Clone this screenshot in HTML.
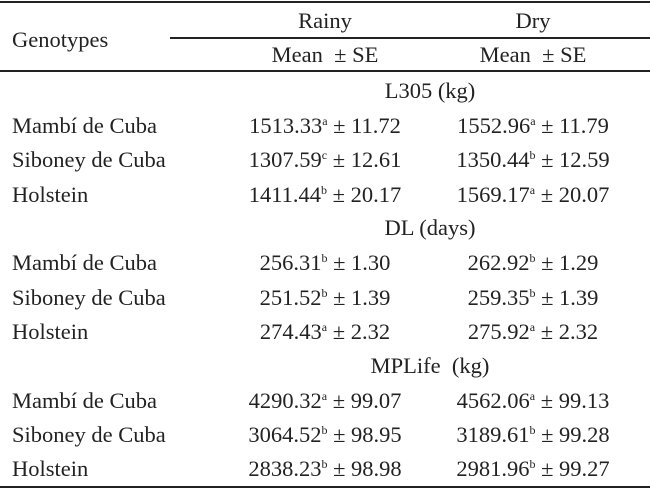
<!DOCTYPE html>
<html><head><meta charset="utf-8"><style>
body{margin:0;width:650px;height:492px;background:#fff;position:relative;overflow:hidden;font-family:"Liberation Serif",serif;font-size:22.5px;color:#222}
.t{position:absolute;white-space:nowrap;line-height:22px}
.c{transform:translateX(-50%)}
.l{position:absolute;background:#222}
sup{font-size:12px;vertical-align:8px;line-height:0}
</style></head><body>
<div class="l" style="left:0;top:1px;width:650px;height:2px"></div>
<div class="l" style="left:170px;top:37px;width:480px;height:2px"></div>
<div class="l" style="left:0;top:70px;width:650px;height:2px"></div>
<div class="l" style="left:0;top:486px;width:650px;height:2px"></div>
<div class="t" style="left:12px;top:29px">Genotypes</div>
<div class="t c" style="left:325px;top:10px">Rainy</div>
<div class="t c" style="left:533px;top:10px">Dry</div>
<div class="t c" style="left:325px;top:44px">Mean &nbsp;± SE</div>
<div class="t c" style="left:533px;top:44px">Mean &nbsp;± SE</div>
<div id="body"></div>
<script>
const sections=["L305 (kg)","DL (days)","MPLife&nbsp; (kg)"];
const genos=["Mambí de Cuba","Siboney de Cuba","Holstein"];
const rainy=[["1513.33","a","11.72"],["1307.59","c","12.61"],["1411.44","b","20.17"],["256.31","b","1.30"],["251.52","b","1.39"],["274.43","a","2.32"],["4290.32","a","99.07"],["3064.52","b","98.95"],["2838.23","b","98.98"]];
const dry=[["1552.96","a","11.79"],["1350.44","b","12.59"],["1569.17","a","20.07"],["262.92","b","1.29"],["259.35","b","1.39"],["275.92","a","2.32"],["4562.06","a","99.13"],["3189.61","b","99.28"],["2981.96","b","99.27"]];
const b=document.getElementById('body');
function add(html,x,y,center,name){const d=document.createElement('div');d.className='t'+(center?' c':'');d.style.left=x+'px';d.style.top=y+'px';d.innerHTML=html;


b.appendChild(d);}
let y=80;
sections.forEach((s,si)=>{add(s,430,y,true,'section-title');y+=35;
genos.forEach((g,gi)=>{const i=si*3+gi;add(g,12,y,false,'genotype-label');
add(rainy[i][0]+'<sup>'+rainy[i][1]+'</sup> ± '+rainy[i][2],325,y,true,'rainy-value');
add(dry[i][0]+'<sup>'+dry[i][1]+'</sup> ± '+dry[i][2],533,y,true,'dry-value');y+=34.3;});
y-=0.5;});
</script>
</body></html>
